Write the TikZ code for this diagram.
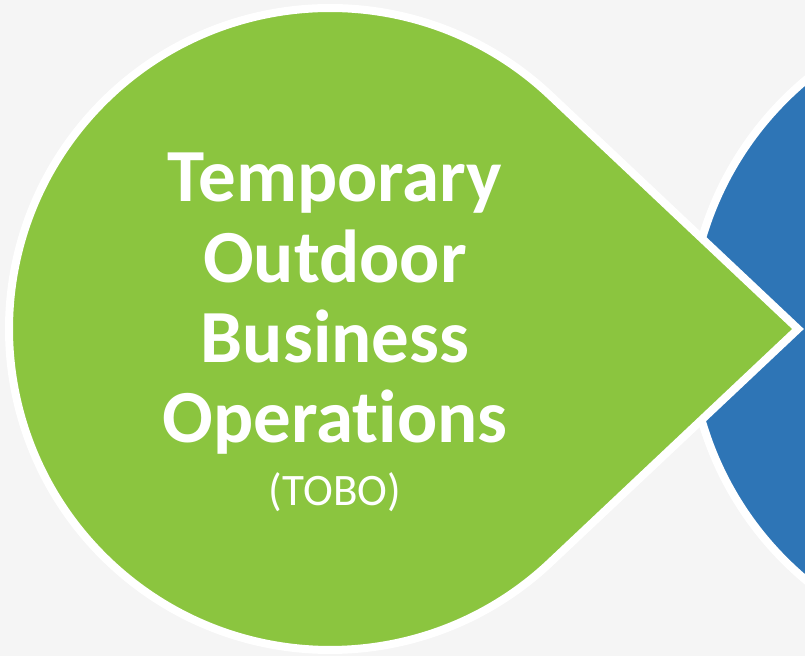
\documentclass[tikz,border=0pt]{standalone}
\usepackage{fontspec}
\usetikzlibrary{calc}
\setmainfont[Ligatures=NoCommon]{Carlito}
\definecolor{bggray}{RGB}{245,245,245}
\definecolor{leafgreen}{RGB}{139,197,63}
\definecolor{circblue}{RGB}{46,117,182}
\tikzset{
  shapeborder/.style={draw=white, line width=8pt, line join=miter},
  bigtext/.style={text=white, font=\fontsize{75}{80}\selectfont\bfseries, anchor=base, inner sep=0pt},
  smalltext/.style={text=white, font=\fontsize{45}{48}\selectfont, anchor=base, inner sep=0pt}
}
\begin{document}
\begin{tikzpicture}[x=1pt,y=1pt]
  \useasboundingbox (0,0) rectangle (805,656);
  \clip (0,0) rectangle (805,656);
  \fill[bggray] (0,0) rectangle (805,656);
  % blue circle on the right
  \path[shapeborder, fill=circblue] (1015,326) circle[radius=326];
  % green teardrop
  \coordinate (tip) at (798,327);
  \coordinate (ctr) at (330,327);
  \path[shapeborder, fill=leafgreen]
    (tip) -- ($(ctr)+(46.7:321)$) arc[start angle=46.7, end angle=313.3, radius=321] -- cycle;
  % text
  \node[bigtext] (l1) at (335,454) {Temporary};
  \node[bigtext] (l2) at (335,373) {Outdoor};
  \node[bigtext] (l3) at (335,293) {Business};
  \node[bigtext] (l4) at (335,213) {Operat\kern0pt ions};
  \node[smalltext] (l5) at (335,151) {(TOBO)};
\end{tikzpicture}
\end{document}
